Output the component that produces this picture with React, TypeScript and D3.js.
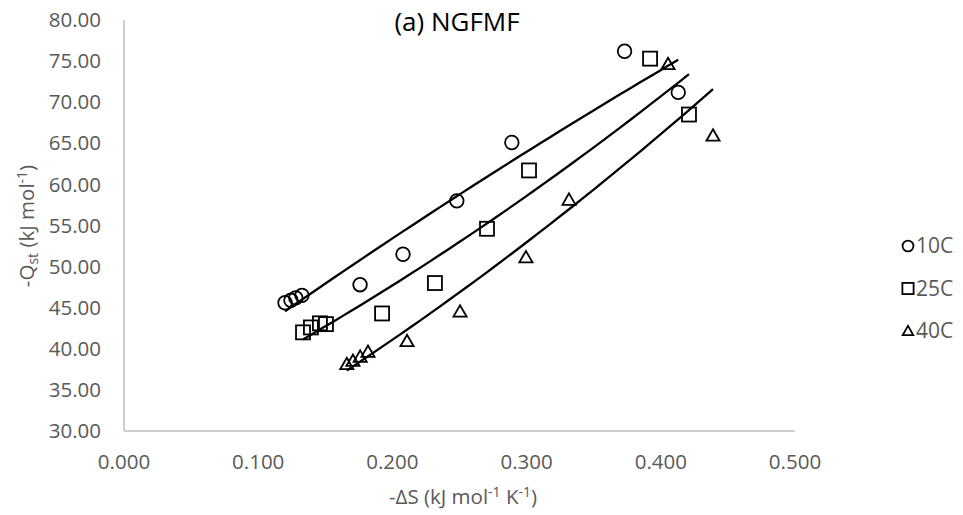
import React from "react";
import * as d3 from "d3";

const seriesNames = ["10C", "25C", "40C"];
const x10 = [0.12, 0.1244, 0.128, 0.1326, 0.1759, 0.2079, 0.248, 0.289, 0.373, 0.413];
const y10 = [45.6, 45.9, 46.2, 46.5, 47.8, 51.5, 58.0, 65.1, 76.2, 71.2];
const x25 = [0.1334, 0.1393, 0.146, 0.1505, 0.1923, 0.2317, 0.2705, 0.3018, 0.392, 0.421];
const y25 = [42.0, 42.6, 43.1, 43.0, 44.3, 48.0, 54.6, 61.7, 75.3, 68.5];
const x40 = [0.166, 0.1706, 0.176, 0.1818, 0.2109, 0.2504, 0.2995, 0.3316, 0.4054, 0.4389];
const y40 = [38.1, 38.5, 39.0, 39.6, 40.9, 44.5, 51.1, 58.1, 74.6, 65.9];
const xTicks = [0, 0.1, 0.2, 0.3, 0.4, 0.5];
const yTicks = [30, 35, 40, 45, 50, 55, 60, 65, 70, 75, 80];

const W = 963, H = 515;
const FONT = "'Open Sans', sans-serif";
const GRAY = "#595959";

function quadFit(xs: number[], ys: number[]) {
  // least squares y = a + b x + c x^2
  let s = [0, 0, 0, 0, 0], t = [0, 0, 0];
  xs.forEach((x, i) => {
    const y = ys[i];
    s[0] += 1; s[1] += x; s[2] += x * x; s[3] += x ** 3; s[4] += x ** 4;
    t[0] += y; t[1] += x * y; t[2] += x * x * y;
  });
  const A = [[s[0], s[1], s[2], t[0]], [s[1], s[2], s[3], t[1]], [s[2], s[3], s[4], t[2]]];
  for (let i = 0; i < 3; i++) {
    for (let j = i + 1; j < 3; j++) {
      const f = A[j][i] / A[i][i];
      for (let k = i; k < 4; k++) A[j][k] -= f * A[i][k];
    }
  }
  const c = A[2][3] / A[2][2];
  const b = (A[1][3] - A[1][2] * c) / A[1][1];
  const a = (A[0][3] - A[0][1] * b - A[0][2] * c) / A[0][0];
  return (x: number) => a + b * x + c * x * x;
}

export default function App() {
  const x = d3.scaleLinear().domain([0, 0.5]).range([124, 795]);
  const y = d3.scaleLinear().domain([30, 80]).range([431, 20]);
  const series = [
    { name: seriesNames[0], xs: x10, ys: y10, shape: "circle" },
    { name: seriesNames[1], xs: x25, ys: y25, shape: "square" },
    { name: seriesNames[2], xs: x40, ys: y40, shape: "triangle" },
  ];
  const marker = (shape: string, cx: number, cy: number, key?: any, k = 1) => {
    const common = { fill: "none", stroke: "#000", strokeWidth: 1.8, key };
    if (shape === "circle") return <circle {...common} cx={cx} cy={cy} r={6.8 * k} />;
    if (shape === "square") return <rect {...common} x={cx - 7 * k} y={cy - 7 * k} width={14 * k} height={14 * k} />;
    const sym = d3.symbol().type(d3.symbolTriangle).size(75 * k * k)();
    return <path {...common} d={sym || ""} transform={`translate(${cx},${cy + 1})`} />;
  };
  const line = d3.line<number>();
  return (
    <svg width={W} height={H} style={{ position: "absolute", left: 0, top: 0, background: "#fff" }}>
      <rect width={W} height={H} fill="#fff" />
      <line x1={x(0)} x2={x(0)} y1={y(80)} y2={y(30)} stroke="#bfbfbf" strokeWidth={1.5} />
      <line x1={x(0)} x2={x(0.5)} y1={y(30)} y2={y(30)} stroke="#bfbfbf" strokeWidth={1.5} />
      {yTicks.map((t) => (
        <text key={t} x={101} y={y(t)} dy="0.35em" textAnchor="end" fontFamily={FONT} fontSize={20.5} fill={GRAY}>
          {t.toFixed(2)}
        </text>
      ))}
      {xTicks.map((t) => (
        <text key={t} x={x(t)} y={462} dy="0.35em" textAnchor="middle" fontFamily={FONT} fontSize={20.5} fill={GRAY}>
          {t.toFixed(3)}
        </text>
      ))}
      <text x={457} y={31} textAnchor="middle" fontFamily={FONT} fontSize={26} fill="#000">
        (a) NGFMF
      </text>
      <text transform="translate(34,226) rotate(-90)" textAnchor="middle" fontFamily={FONT} fontSize={20.5} fill={GRAY}>
        -Q<tspan fontSize={14} dy={4}>st</tspan>
        <tspan dy={-4}> (kJ mol</tspan>
        <tspan fontSize={14} dy={-7}>-1</tspan>
        <tspan dy={7}>)</tspan>
      </text>
      <text x={463} y={504} textAnchor="middle" fontFamily={FONT} fontSize={20.5} fill={GRAY}>
        -ΔS (kJ mol<tspan fontSize={14} dy={-7}>-1</tspan>
        <tspan dy={7}> K</tspan>
        <tspan fontSize={14} dy={-7}>-1</tspan>
        <tspan dy={7}>)</tspan>
      </text>
      {series.map((s) => {
        const f = quadFit(s.xs, s.ys);
        const x0 = d3.min(s.xs)!, x1 = d3.max(s.xs)!;
        const pts = d3.range(0, 41).map((i) => x0 + ((x1 - x0) * i) / 40);
        const d = line.x((v) => x(v)).y((v) => y(f(v)))(pts) || "";
        return <path key={s.name + "l"} d={d} fill="none" stroke="#000" strokeWidth={2.3} />;
      })}
      {series.map((s) => (
        <g key={s.name}>{s.xs.map((v, i) => marker(s.shape, x(v), y(s.ys[i]), i))}</g>
      ))}
      {series.map((s, i) => (
        <g key={s.name + "leg"}>
          {marker(s.shape, 908, 246 + i * 42.5, undefined, 0.8)}
          <text x={916} y={246 + i * 42.5} dy="0.35em" fontFamily={FONT} fontSize={21} fill={GRAY}>
            {s.name}
          </text>
        </g>
      ))}
    </svg>
  );
}
